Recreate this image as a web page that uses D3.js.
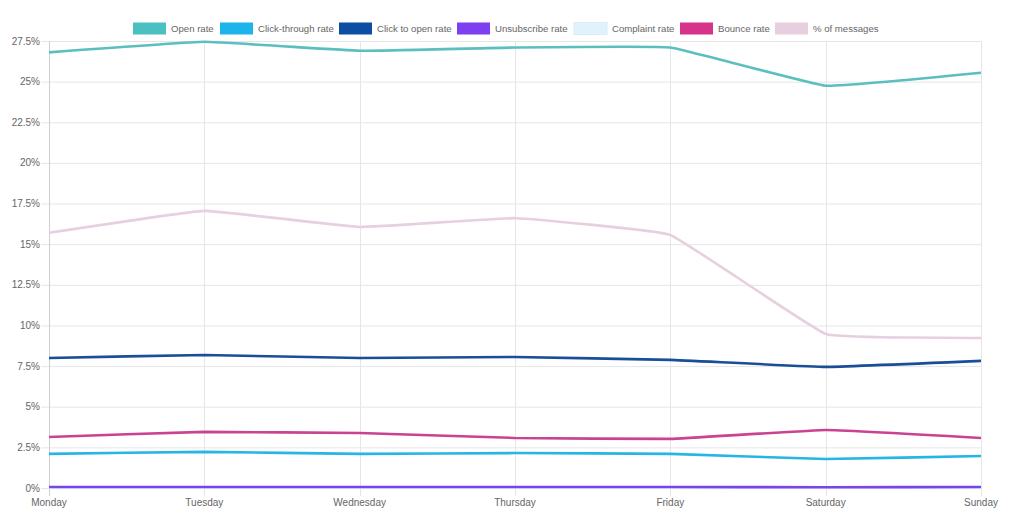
<!DOCTYPE html>
<html><head><meta charset="utf-8">
<script src="https://cdn.jsdelivr.net/npm/d3@7"></script>
<style>html,body{margin:0;padding:0;background:#fff;}svg{display:block;font-family:"Liberation Sans",Arial,sans-serif;}</style>
</head><body><svg id="c" width="1024" height="531"></svg>
<script>
const days = ["Monday","Tuesday","Wednesday","Thursday","Friday","Saturday","Sunday"];
const seriesNames = ["Open rate","Click-through rate","Click to open rate","Unsubscribe rate","Complaint rate","Bounce rate","% of messages"];
const openRate = [26.8,27.45,26.9,27.1,27.1,24.75,25.55];
const clickThrough = [2.1,2.22,2.1,2.15,2.1,1.78,1.97];
const clickToOpen = [8.0,8.18,8.0,8.06,7.88,7.45,7.82];
const unsubscribe = [0.06,0.06,0.06,0.06,0.06,0.05,0.06];
const complaint = [0.01,0.01,0.01,0.01,0.01,0.01,0.01];
const bounce = [3.14,3.45,3.38,3.08,3.02,3.57,3.08];
const pctMessages = [15.7,17.05,16.06,16.6,15.57,9.48,9.23];
const yTicks = [0,2.5,5,7.5,10,12.5,15,17.5,20,22.5,25,27.5];
const colors = ["#4bc0c0","#1cb4ea","#0b4ea2","#7d3ff0","#e0f3fc","#d6348a","#e7cfe0"];
const lineColors = ["#5bbfbf","#26b6e4","#1a4f98","#7a44e8","#e0f3fc","#c94390","#e6d0e0"];
const values = [openRate,clickThrough,clickToOpen,unsubscribe,complaint,bounce,pctMessages];

const svg = d3.select("#c");
const x = d3.scalePoint().domain(days).range([49,981]);
const y = d3.scaleLinear().domain([0,27.5]).range([488,41]);

// grid
const g = svg.append("g");
g.selectAll(".hg").data(yTicks).join("line")
  .attr("x1",41).attr("x2",981).attr("y1",d=>y(d)+0.5).attr("y2",d=>y(d)+0.5)
  .attr("stroke","#e6e6e6").attr("stroke-width",1);
g.selectAll(".vg").data(days).join("line")
  .attr("x1",d=>Math.round(x(d))+0.5).attr("x2",d=>Math.round(x(d))+0.5)
  .attr("y1",41).attr("y2",496)
  .attr("stroke",(d,i)=>i===0?"#cfcfcf":"#e6e6e6").attr("stroke-width",1);

// y labels
g.selectAll(".yl").data(yTicks).join("text")
  .attr("x",40).attr("y",d=>y(d)+3.5).attr("text-anchor","end")
  .attr("font-size","10px").attr("fill","#666")
  .text(d=>d+"%");
// x labels
g.selectAll(".xl").data(days).join("text")
  .attr("x",d=>x(d)).attr("y",506).attr("text-anchor","middle")
  .attr("font-size","10px").attr("fill","#666")
  .text(d=>d);

const line = d3.line().x((d,i)=>x(days[i])).y(d=>y(d)).curve(d3.curveCardinal.tension(0.75));
const order = [6,4,3,1,5,2,0];
order.forEach(k=>{
  svg.append("path").datum(values[k]).attr("d",line)
    .attr("fill","none").attr("stroke",lineColors[k]).attr("stroke-width",2.6)
    .attr("stroke-linejoin","round");
});

// legend
const legX = [133,220,339,457,574,680,775];
const lg = svg.append("g");
seriesNames.forEach((n,i)=>{
  lg.append("rect").attr("x",legX[i]).attr("y",22.5).attr("width",33).attr("height",12)
    .attr("fill",colors[i]).attr("stroke",i===4?"#d6eef8":"none").attr("stroke-width",1);
  lg.append("text").attr("x",legX[i]+38).attr("y",32).attr("font-size","9.6px").attr("fill","#666").text(n);
});
</script></body></html>
